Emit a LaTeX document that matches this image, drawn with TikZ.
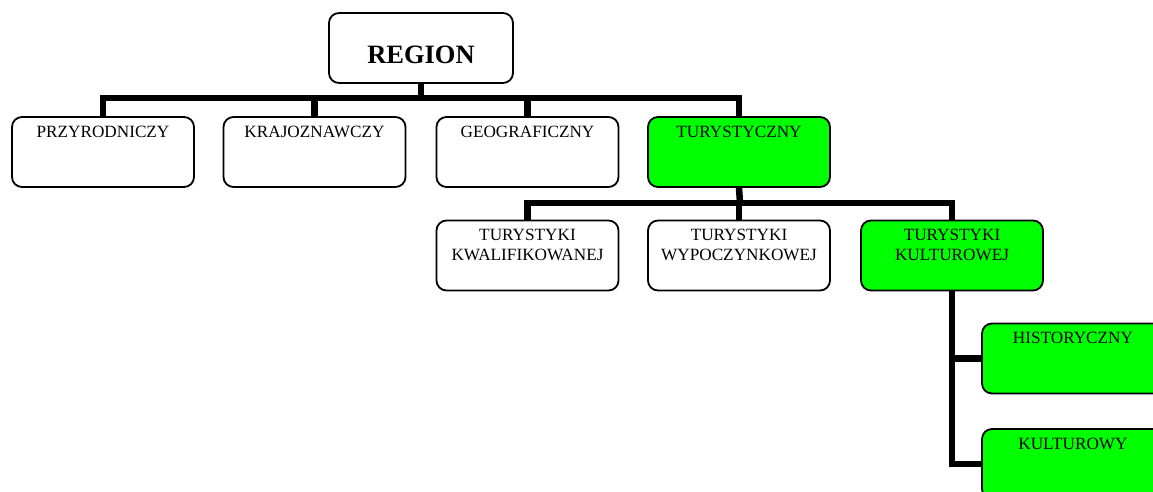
\documentclass[tikz,border=0pt]{standalone}
\usepackage{fontspec}
\setmainfont{Liberation Serif}
\definecolor{brightgreen}{HTML}{00FF00}
\begin{document}
\begin{tikzpicture}[x=1pt,y=-1pt,
  box/.style={draw=black, line width=1.8pt, rounded corners=10pt, fill=white,
    minimum width=182pt, minimum height=70pt, inner sep=0pt},
  gbox/.style={box, fill=brightgreen},
  lbl/.style={font=\fontsize{17.2}{20.5}\selectfont, align=center, anchor=north, inner sep=0pt},
  conn/.style={line width=6.5pt, line join=miter, line cap=butt}]
\useasboundingbox (0,0) rectangle (1153,491);
\clip (0,0) rectangle (1153,491);
\coordinate (b1) at (421,98);
\coordinate (b2) at (740,203);
% boxes
\node[box, minimum width=184pt] (region) at (421,48) {};
\node[font=\fontsize{26.5}{30}\selectfont\bfseries, anchor=base, inner sep=0pt] at (421,63) {REGION};
\node[box] (przy) at (103,152) {};
\node[box] (kraj) at (314.5,152) {};
\node[box] (geo) at (527.5,152) {};
\node[gbox] (tur) at (739,152) {};
\node[box] (kwal) at (527.5,255.5) {};
\node[box] (wyp) at (739,255.5) {};
\node[gbox] (kult) at (952,255.5) {};
\node[gbox] (hist) at (1073,358.5) {};
\node[gbox] (kultr) at (1073,464) {};
% labels
\node[lbl] at ([yshift=-9.5pt]przy.north) {PRZYRODNICZY};
\node[lbl] at ([yshift=-9.5pt]kraj.north) {KRAJOZNAWCZY};
\node[lbl] at ([yshift=-9.5pt]geo.north) {GEOGRAFICZNY};
\node[lbl] at ([yshift=-9.5pt]tur.north) {TURYSTYCZNY};
\node[lbl] at ([yshift=-9pt]kwal.north) {TURYSTYKI\\KWALIFIKOWANEJ};
\node[lbl] at ([yshift=-9pt]wyp.north) {TURYSTYKI\\WYPOCZYNKOWEJ};
\node[lbl] at ([yshift=-9pt]kult.north) {TURYSTYKI\\KULTUROWEJ};
\node[lbl] at ([yshift=-9.5pt]hist.north) {HISTORYCZNY};
\node[lbl] at ([yshift=-9.5pt]kultr.north) {KULTUROWY};
% connectors
\draw[conn] (region.south) -- (b1);
\draw[conn] (przy.north) |- (b1) -| (tur.north);
\draw[conn] (kraj.north) -- (kraj.north |- b1);
\draw[conn] (geo.north) -- (geo.north |- b1);
\draw[conn] (tur.south) -- (b2);
\draw[conn] (kwal.north) |- (b2) -| (kult.north);
\draw[conn] (wyp.north) -- (wyp.north |- b2);
\draw[conn] (kult.south) |- (kultr.west);
\draw[conn] (kult.south |- hist.west) -- (hist.west);
\end{tikzpicture}
\end{document}
